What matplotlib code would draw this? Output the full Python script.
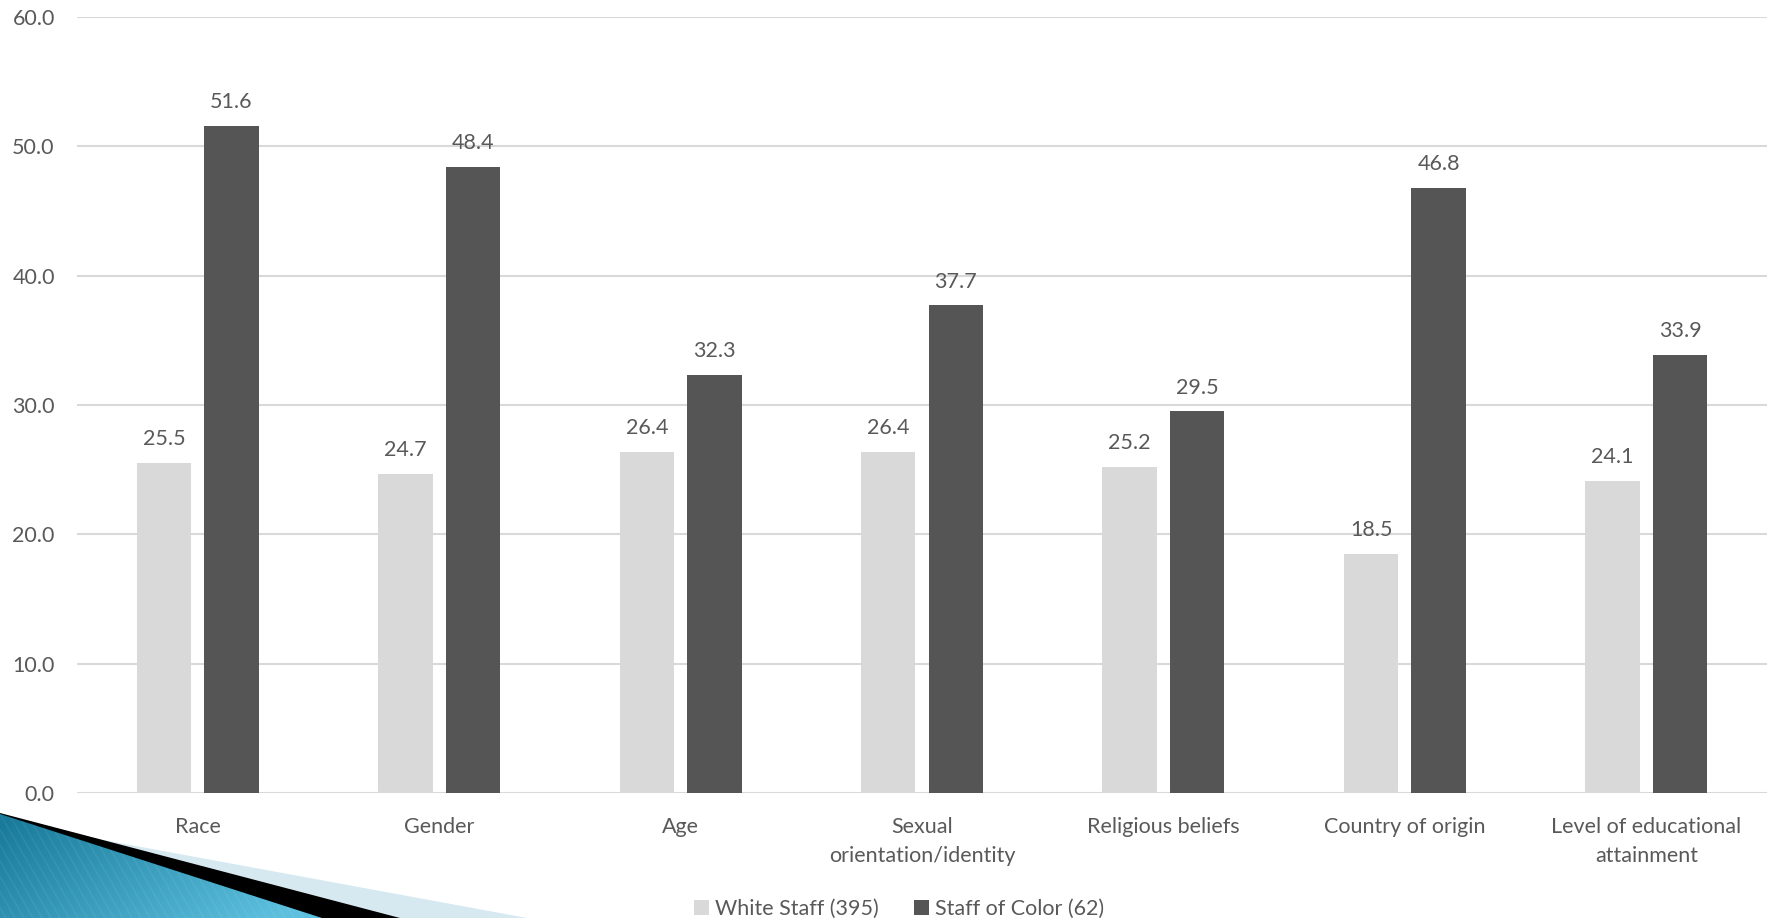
import numpy as np
import matplotlib
matplotlib.use("Agg")
import matplotlib.pyplot as plt
from matplotlib.patches import Polygon

categories = ["Race", "Gender", "Age", "Sexual\norientation/identity",
              "Religious beliefs", "Country of origin",
              "Level of educational\nattainment"]
white_staff = [25.5, 24.7, 26.4, 26.4, 25.2, 18.5, 24.1]
staff_of_color = [51.6, 48.4, 32.3, 37.7, 29.5, 46.8, 33.9]
series_names = ["White Staff (395)", "Staff of Color (62)"]
yticks = [0, 10, 20, 30, 40, 50, 60]

plt.rcParams['font.family'] = ['Lato', 'DejaVu Sans']
TXT = "#595959"
FS = 15.5
W, H = 1769, 918
fig = plt.figure(figsize=(W / 100, H / 100), dpi=100)

# decorative corner shape (figure pixel coords)
deco = fig.add_axes([0, 0, 1, 1], zorder=0)
deco.set_xlim(0, W)
deco.set_ylim(H, 0)
deco.axis("off")
deco.add_patch(Polygon([(0, 821), (527, 918), (0, 918)], closed=True,
                       facecolor="#d6e9f1", edgecolor="none"))
deco.add_patch(Polygon([(0, 813), (400, 918), (0, 918)], closed=True,
                       facecolor="black", edgecolor="none"))
blue = Polygon([(0, 814), (322, 918), (0, 918)], closed=True,
               facecolor="none", edgecolor="none")
deco.add_patch(blue)
gx, gy = np.meshgrid(np.linspace(0, 1, 200), np.linspace(0, 1, 60))
t = np.clip(0.75 * gx + 0.35 * gy, 0, 1)
c0 = np.array([0x17, 0x78, 0x98]) / 255
c1 = np.array([0x5c, 0xc0, 0xde]) / 255
img = c0[None, None, :] * (1 - t[..., None]) + c1[None, None, :] * t[..., None]
im = deco.imshow(img, extent=(0, 322, 918, 814), aspect="auto",
                 interpolation="bilinear", zorder=1)
im.set_clip_path(blue)
for k in range(-20, 60):
    x0 = k * 9
    ln, = deco.plot([x0, x0 + 60], [814, 918], color="white", alpha=0.06,
                    lw=1.2, zorder=2)
    ln.set_clip_path(blue)

ax = fig.add_axes([77 / W, 125 / H, (1767 - 77) / W, (793 - 17) / H], zorder=1)
ax.patch.set_alpha(0)
x = np.arange(len(categories))
bw = 0.225
off = 0.14
b1 = ax.bar(x - off, white_staff, bw, color="#d9d9d9", label=series_names[0], zorder=3)
b2 = ax.bar(x + off, staff_of_color, bw, color="#555555", label=series_names[1], zorder=3)
for bars, vals in ((b1, white_staff), (b2, staff_of_color)):
    for r, v in zip(bars, vals):
        ax.annotate(f"{v:.1f}", (r.get_x() + r.get_width() / 2, v),
                    xytext=(0, 10), textcoords="offset points",
                    ha="center", va="bottom", fontsize=FS, color=TXT)

ax.set_xlim(-0.5, len(categories) - 0.5)
ax.set_ylim(0, 60)
ax.set_yticks(yticks)
ax.set_yticklabels([f"{v:.1f}" for v in yticks])
ax.set_xticks(x)
ax.set_xticklabels(categories, linespacing=1.6)
ax.tick_params(axis="y", length=0, pad=16, labelsize=FS, labelcolor=TXT)
ax.tick_params(axis="x", length=0, pad=17, labelsize=FS, labelcolor=TXT)
ax.grid(axis="y", color="#d9d9d9", lw=1.5, zorder=0)
for s in ax.spines.values():
    s.set_visible(False)

fig.legend(handles=[b1, b2], labels=series_names, loc="center",
           bbox_to_anchor=(899 / W, 1 - 909 / H), ncol=2, frameon=False,
           fontsize=FS, labelcolor=TXT, handlelength=0.7, handleheight=0.7,
           handletextpad=0.3, columnspacing=1.6)

fig.savefig("out.png", dpi=100)
